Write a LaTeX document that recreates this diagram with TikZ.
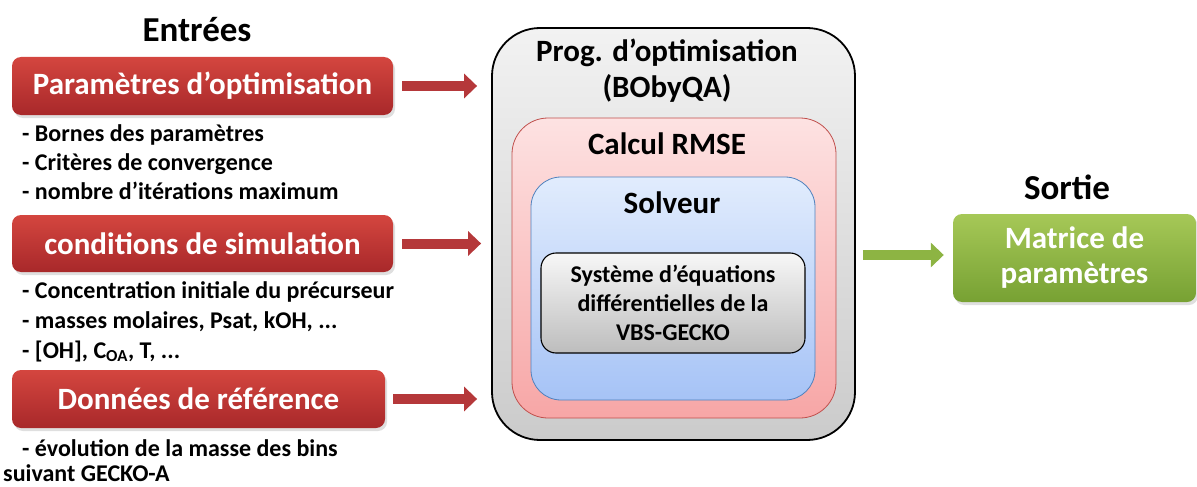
\documentclass[tikz,border=0pt]{standalone}
\usepackage{fontspec}
\setmainfont{Carlito}
\usetikzlibrary{arrows.meta,shadows,calc}
\definecolor{redtop}{HTML}{D4463F}
\definecolor{redbot}{HTML}{A8282A}
\definecolor{redarr}{HTML}{B5383A}
\definecolor{greentop}{HTML}{A6C857}
\definecolor{greenbot}{HTML}{77A133}
\definecolor{greenarr}{HTML}{8DB443}
\definecolor{pinkdraw}{HTML}{C0504D}
\definecolor{pinktop}{HTML}{FDE2E2}
\definecolor{pinkbot}{HTML}{F7A6A6}
\definecolor{bluedraw}{HTML}{4F81BD}
\definecolor{bluetop}{HTML}{E1ECFD}
\definecolor{bluebot}{HTML}{A6C3F6}
\definecolor{graytop}{HTML}{F2F2F2}
\definecolor{graybot}{HTML}{CBCBCB}
\definecolor{odetop}{HTML}{F7F7F7}
\definecolor{odebot}{HTML}{BDBDBD}
\tikzset{
  redbox/.style={rounded corners=9pt, top color=redtop, bottom color=redbot, draw=none,
    text=white, font=\fontsize{31pt}{36pt}\bfseries\selectfont,
    drop shadow={shadow xshift=2pt, shadow yshift=-3pt, opacity=0.25}},
  greenbox/.style={rounded corners=9pt, top color=greentop, bottom color=greenbot, draw=none,
    text=white, font=\fontsize{31pt}{35pt}\bfseries\selectfont, align=center,
    drop shadow={shadow xshift=2pt, shadow yshift=-3pt, opacity=0.25}},
  title/.style={font=\fontsize{35pt}{40pt}\bfseries\selectfont},
  bullet/.style={anchor=base west, font=\fontsize{24pt}{28pt}\bfseries\selectfont, inner sep=0pt},
  boxlabel/.style={font=\fontsize{31pt}{36pt}\bfseries\selectfont, align=center},
  redarrow/.style={draw=redarr, line width=10pt, -{Triangle[length=13pt,width=24pt]}},
  greenarrow/.style={draw=greenarr, line width=10pt, -{Triangle[length=13pt,width=24pt]}},
}
\begin{document}
\begin{tikzpicture}[x=1pt,y=-1pt]
\useasboundingbox (0,0) rectangle (1197,487);
% left titles
\node[title] (entrees) at (197,30) {Entrées};
\node[redbox, minimum width=381pt, minimum height=58pt] (p1) at (202.5,86) {Paramètres d’optimisation};
\node[redbox, minimum width=381pt, minimum height=57pt] (p2) at (202.5,243.5) {conditions de simulation};
\node[redbox, minimum width=373pt, minimum height=58pt] (p3) at (198.5,399) {Données de référence};
% bullets
\node[bullet] (b11) at (22,141) {- Bornes des paramètres};
\node[bullet] (b12) at (22,170) {- Critères de convergence};
\node[bullet] (b13) at (22,199) {- nombre d’itérations maximum};
\node[bullet] (b21) at (22,298) {- Concentration initiale du précurseur};
\node[bullet] (b22) at (22,328) {- masses molaires, Psat, kOH, ...};
\node[bullet] (b23) at (22,358) {- [OH], C\textsubscript{OA}, T, ...};
\node[bullet] (b31) at (22,456) {- évolution de la masse des bins};
\node[bullet] (b32) at (3,481) {suivant GECKO-A};
% center boxes
\node[draw=black, line width=1.8pt, rounded corners=48pt, top color=graytop, bottom color=graybot,
  minimum width=363pt, minimum height=412pt] (gray) at (673.5,234) {};
\node[draw=pinkdraw, line width=0.8pt, rounded corners=36pt, top color=pinktop, bottom color=pinkbot,
  minimum width=324pt, minimum height=300pt] (pink) at (674,268) {};
\node[draw=bluedraw, line width=0.8pt, rounded corners=30pt, top color=bluetop, bottom color=bluebot,
  minimum width=284pt, minimum height=223pt] (blue) at (673,288.5) {};
\node[draw=black, line width=1.1pt, rounded corners=15pt, top color=odetop, bottom color=odebot,
  minimum width=264pt, minimum height=100pt, align=center,
  font=\fontsize{24pt}{29pt}\bfseries\selectfont] (ode) at (673,303)
  {Système d’équations\\différentielles de la\\VBS-GECKO};
\node[boxlabel] (grayl) at (667,71) {Prog. d’optimisation\\(BObyQA)};
\node[boxlabel] (pinkl) at (667,144) {Calcul RMSE};
\node[boxlabel] (bluel) at (672,203) {Solveur};
% output
\node[title] (sortie) at (1067,187) {Sortie};
\node[greenbox, minimum width=243pt, minimum height=88pt] (green) at (1074.5,258) {Matrice de\\paramètres};
% arrows
\draw[redarrow] ([xshift=9pt]p1.east) -- ($(p1.east -| gray.west)+(-14,0)$);
\draw[redarrow] ([xshift=9pt]p2.east) -- ($(p2.east -| gray.west)+(-10,0)$);
\draw[redarrow] ([xshift=8pt]p3.east) -- ($(p3.east -| gray.west)+(-14,0)$);
\draw[greenarrow] ($(green.west -| gray.east)+(7,-3)$) -- ($(green.west)+(-9,-3)$);
\end{tikzpicture}
\end{document}
